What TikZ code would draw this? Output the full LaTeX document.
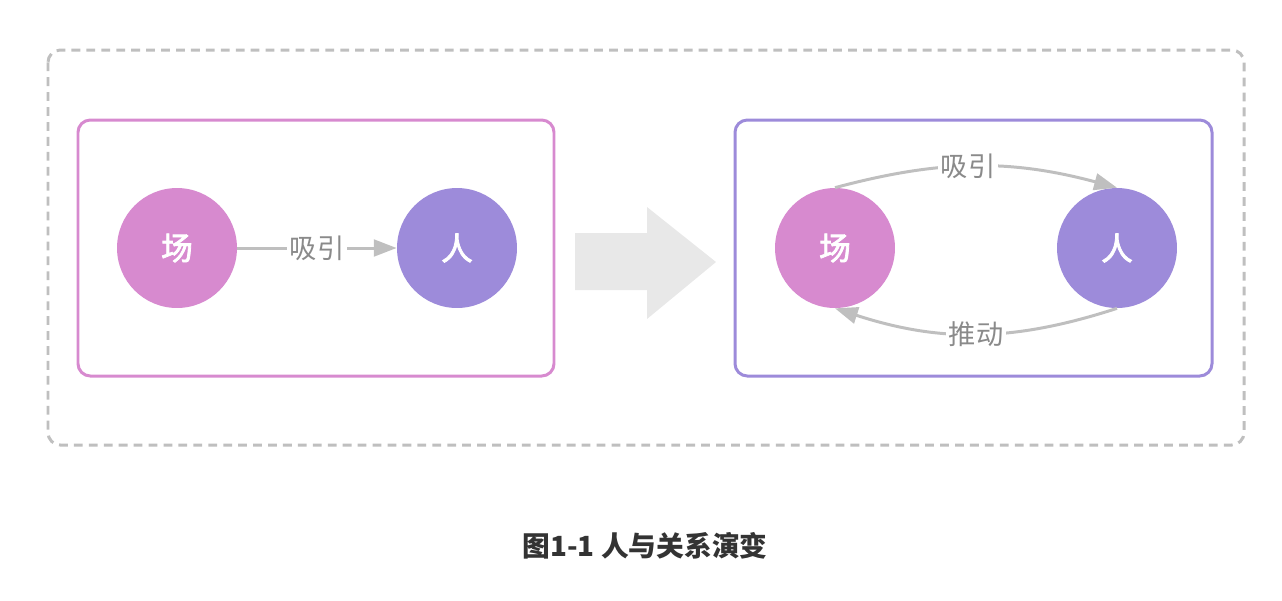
\documentclass[tikz,border=0pt]{standalone}
\usepackage{fontspec}
\usetikzlibrary{arrows.meta}
\newfontfamily\cjk{Noto Sans CJK SC}
\newfontfamily\cjkmid{Noto Sans CJK SC}[BoldFont={Noto Sans CJK SC}, BoldFeatures={FakeBold=2.5}]
\definecolor{fieldc}{HTML}{D78ACF}
\definecolor{personc}{HTML}{9D8BDA}
\definecolor{linec}{HTML}{BFBFBF}
\definecolor{labelc}{HTML}{8A8A8A}
\definecolor{bigarrowc}{HTML}{E8E8E8}
\definecolor{titlec}{HTML}{333333}

\begin{document}
\begin{tikzpicture}[x=0.02cm, y=0.02cm,
  every node/.style={inner sep=0pt, font=\cjk},
  ball/.style={circle, minimum size=2.4cm, text=white, font=\cjkmid\bfseries\fontsize{18pt}{18pt}\selectfont},
  frame/.style={line width=1.7pt, rounded corners=7pt},
  rel/.style={draw=linec, line width=1.7pt, -{Triangle[length=13pt,width=9.5pt]}},
  lbl/.style={fill=white, inner sep=1.5pt, text=labelc, font=\cjk\fontsize{15.5pt}{15.5pt}\selectfont}]
\useasboundingbox (0,0) rectangle (1282,-600);
\draw [linec, line width=1.7pt, dash pattern=on 5pt off 3.5pt, rounded corners=7pt] (48,-50) rectangle (1244,-445);
\draw [frame, fieldc] (78,-120) rectangle (554,-376);
\draw [frame, personc] (735,-120) rectangle (1212,-376);
\node [ball, fill=fieldc] (lfield) at (177,-248) {场};
\node [ball, fill=personc] (lperson) at (457,-248) {人};
\draw [rel] (lfield) -- node [lbl] {吸引} (lperson);
\fill [bigarrowc] (575,-233) -- (647,-233) -- (647,-207) -- (716,-262) -- (647,-319) -- (647,-290) -- (575,-290) -- cycle;
\node [ball, fill=fieldc] (rfield) at (835,-248) {场};
\node [ball, fill=personc] (rperson) at (1117,-248) {人};
\draw [rel] (rfield.north) to [bend left=15] node [lbl, pos=0.47] {吸引} (rperson.north);
\draw [rel] (rperson.south) to [bend left=18] node [lbl, pos=0.5] {推动} (rfield.south);
\node [text=titlec, font=\cjk\bfseries\fontsize{15.8pt}{15.8pt}\selectfont] (title) at (645,-546) {图1-1 人与关系演变};
\end{tikzpicture}
\end{document}
